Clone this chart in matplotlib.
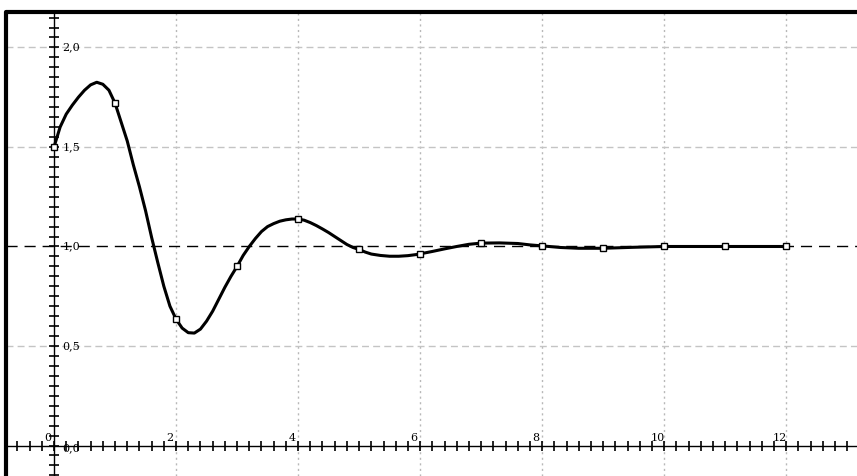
import numpy as np
import matplotlib.pyplot as plt
from matplotlib.transforms import offset_copy

# curve
curve_x = [0.0, 0.1, 0.2, 0.3, 0.4, 0.5, 0.6, 0.7, 0.8, 0.9, 1.0, 1.1, 1.2, 1.3, 1.4,
           1.5, 1.6, 1.7, 1.8, 1.9, 2.0, 2.1, 2.2, 2.3, 2.4, 2.5, 2.6, 2.7, 2.8, 2.9,
           3.0, 3.1, 3.2, 3.3, 3.4, 3.5, 3.6, 3.7, 3.8, 3.9, 4.0, 4.1, 4.2, 4.3, 4.4,
           4.5, 4.6, 4.7, 4.8, 4.9, 5.0, 5.1, 5.2, 5.35, 5.5, 5.65, 5.8, 5.95, 6.2,
           6.4, 6.6, 6.8, 7.0, 7.3, 7.6, 7.8, 8.0, 8.3, 8.6, 9.0, 9.5, 10.0, 11.0, 12.0]
curve_y = [1.5, 1.6, 1.665, 1.71, 1.75, 1.785, 1.812, 1.825, 1.815, 1.785, 1.72, 1.625,
           1.53, 1.41, 1.3, 1.18, 1.045, 0.92, 0.8, 0.7, 0.635, 0.59, 0.567, 0.565, 0.585,
           0.625, 0.675, 0.735, 0.795, 0.85, 0.9, 0.955, 1.0, 1.04, 1.075, 1.1, 1.115,
           1.127, 1.134, 1.138, 1.138, 1.132, 1.12, 1.105, 1.088, 1.07, 1.05, 1.03, 1.01,
           0.995, 0.985, 0.972, 0.962, 0.955, 0.951, 0.951, 0.954, 0.96, 0.975, 0.988,
           1.0, 1.011, 1.017, 1.018, 1.015, 1.008, 1.003, 0.995, 0.991, 0.991, 0.996,
           1.0, 1.0, 1.0]

# sample points (squares)
pts_x = [0, 1, 2, 3, 4, 5, 6, 7, 8, 9, 10, 11, 12]
pts_y = [1.5, 1.72, 0.635, 0.9, 1.138, 0.985, 0.962, 1.017, 1.003, 0.991, 1.0, 1.0, 1.0]

setpoint = 1.0
xticks_lab = [0, 2, 4, 6, 8, 10, 12]
yticks_val = [0.0, 0.5, 1.0, 1.5, 2.0]
ytick_lab = ["0,0", "0,5", "1,0", "1,5", "2,0"]

fig = plt.figure(figsize=(8.57, 4.76), dpi=100)
ax = fig.add_axes([6/857, 0, 851/857, 464/476])
ax.set_xlim(-0.787, 13.16)
ax.set_ylim(-0.153, 2.178)

# grid
for gx in [2, 4, 6, 8, 10, 12]:
    ax.axvline(gx, color='#b8b8b8', lw=1.0, ls=(0, (1.5, 2.5)), zorder=1)
for gy in [0.5, 1.5, 2.0]:
    ax.axhline(gy, color='#c4c4c4', lw=1.0, ls=(0, (5, 3)), zorder=1)
ax.axhline(setpoint, color='black', lw=1.0, ls=(0, (8, 5)), zorder=2)

# axes through origin
for s in ['top', 'right']:
    ax.spines[s].set_visible(False)
ax.spines['left'].set_position(('data', 0))
ax.spines['bottom'].set_position(('data', 0))
ax.spines['left'].set_linewidth(1.0)
ax.spines['bottom'].set_linewidth(1.0)
ax.set_xticks(np.arange(-0.6, 13.2, 0.2))
ax.set_yticks(np.arange(-0.15, 2.17, 0.05))
ax.tick_params(direction='inout', length=7, width=1.2, labelbottom=False, labelleft=False)

# frame border (top + left)
ax.plot([0, 0, 1], [0, 1, 1], transform=ax.transAxes, color='black', lw=3, clip_on=False, zorder=5)

# curve and markers
ax.plot(curve_x, curve_y, color='black', lw=2.2, zorder=3, solid_capstyle='round',
        solid_joinstyle='round')
ax.plot(pts_x, pts_y, ls='none', marker='s', ms=5, mfc='white', mec='black', mew=1.0, zorder=4)

# tick labels
font = dict(family='DejaVu Serif', size=8)
tx = offset_copy(ax.transData, fig=fig, x=-4.5, y=2, units='points')
for v in xticks_lab:
    ax.text(v, 0, str(v), transform=tx, ha='center', va='bottom', **font)
ty = offset_copy(ax.transData, fig=fig, x=6, y=0, units='points')
for v, lab in zip(yticks_val, ytick_lab):
    off = -2 if v == 0 else 0
    ax.text(0, v, lab, transform=offset_copy(ty, fig=fig, y=off, units='points'),
            ha='left', va='center', **font)

fig.savefig('out.png', dpi=100)
